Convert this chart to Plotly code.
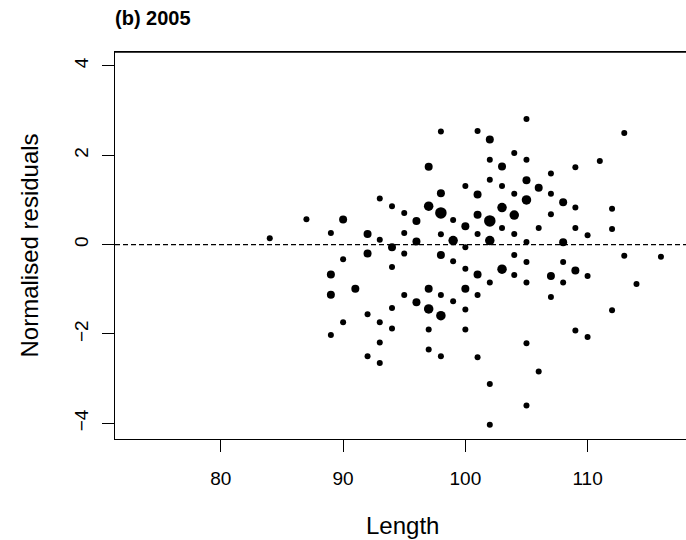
import plotly.graph_objects as go

# Residuals by length (2005); weight = number of overlapping fish at that point
length = (
    [84, 87]
    + [89] * 4 + [90] * 3 + [91] + [92] * 4 + [93] * 5 + [94] * 5 + [95] * 4
    + [96] * 3 + [97] * 6 + [98] * 8 + [99] * 4 + [100] * 7 + [101] * 7
    + [102] * 8 + [103] * 5 + [104] * 6 + [105] * 9 + [106] * 3 + [107] * 5
    + [108] * 4 + [109] * 5 + [110] * 3 + [111] + [112] * 3 + [113] * 2
    + [114] + [116]
)
residual = [
    0.14, 0.57,
    0.26, -0.67, -1.12, -2.02,
    0.56, -0.33, -1.74,
    -0.99,
    0.24, -0.20, -1.56, -2.50,
    1.03, 0.11, -1.74, -2.19, -2.65,
    0.86, -0.06, -0.50, -1.42, -1.88,
    0.71, 0.26, -0.20, -1.13,
    0.53, 0.07, -1.29,
    1.74, 0.86, -0.99, -1.44, -1.90, -2.35,
    2.53, 1.15, 0.71, 0.23, -0.23, -1.13, -1.59, -2.50,
    0.55, 0.09, -0.37, -1.27,
    1.31, 0.41, -0.06, -0.54, -0.99, -1.45, -1.90,
    2.54, 1.12, 0.67, 0.24, -0.67, -1.13, -2.52,
    2.35, 1.90, 1.45, 0.53, 0.09, -0.85, -3.12, -4.03,
    1.75, 1.31, 0.83, 0.37, -0.55,
    2.05, 1.14, 0.66, 0.24, -0.23, -0.68,
    2.81, 1.90, 1.44, 1.00, 0.06, -0.39, -0.85, -2.21, -3.60,
    1.27, 0.37, -2.84,
    1.59, 1.14, 0.68, -0.70, -1.17,
    0.95, 0.05, -0.39, -0.85,
    1.73, 0.83, 0.37, -0.58, -1.92,
    0.21, -0.70, -2.07,
    1.87,
    0.80, 0.35, -1.47,
    2.50, -0.25,
    -0.88,
    -0.27,
]
weight = [
    1, 1,
    1, 2, 2, 1,
    2, 1, 1,
    2,
    2, 2, 1, 1,
    1, 1, 1, 1, 1,
    1, 2, 1, 1, 1,
    1, 1, 1, 1,
    2, 2, 2,
    2, 3, 2, 3, 1, 1,
    1, 2, 4, 1, 2, 1, 3, 1,
    1, 3, 1, 1,
    1, 2, 1, 1, 2, 1, 1,
    1, 2, 2, 1, 2, 1, 1,
    2, 1, 1, 4, 3, 1, 1, 1,
    2, 1, 3, 1, 3,
    1, 1, 3, 1, 1, 1,
    1, 1, 2, 3, 1, 1, 1, 1, 1,
    2, 1, 1,
    1, 1, 1, 2, 1,
    2, 2, 1, 1,
    1, 1, 1, 2, 1,
    1, 1, 1,
    1,
    1, 1, 1,
    1, 1,
    1,
    1,
]
x_ticks = [80, 90, 100, 110]
y_ticks = [-4, -2, 0, 2, 4]

size_map = {1: 6, 2: 8, 3: 9.5, 4: 11.5}
sizes = [size_map[w] for w in weight]

font = "Liberation Sans, Arial, sans-serif"

fig = go.Figure()
fig.add_trace(go.Scatter(
    x=length, y=residual, mode="markers",
    marker=dict(color="#000000", size=sizes, opacity=1, line=dict(width=0)),
    showlegend=False, hoverinfo="x+y",
))

# reference line at zero, and the top edge of the box
fig.add_shape(type="line", xref="paper", yref="y", x0=0, x1=1, y0=0, y1=0,
              line=dict(color="black", width=1.3, dash="5px,3px"))
fig.add_shape(type="line", xref="paper", yref="paper", x0=0, x1=1, y0=1, y1=1,
              line=dict(color="black", width=1.3))

fig.update_layout(
    width=686, height=540,
    margin=dict(l=115, r=0, t=52, b=101, autoexpand=False),
    paper_bgcolor="white", plot_bgcolor="white",
    font=dict(family=font, size=19, color="black"),
    title=dict(text="<b>(b) 2005</b>", x=0, xref="paper", xanchor="left",
               y=1 - 18 / 540, yref="container", yanchor="middle",
               font=dict(family=font, size=20, color="black")),
    annotations=[
        dict(text="Length", xref="paper", yref="paper", x=0.504, y=-(525 - 439) / 387,
             showarrow=False, xanchor="center", yanchor="middle",
             font=dict(family=font, size=24, color="black")),
        dict(text="Normalised residuals", xref="paper", yref="paper",
             x=(29 - 115) / 571, y=0.5, textangle=-90, showarrow=False,
             xanchor="center", yanchor="middle",
             font=dict(family=font, size=24, color="black")),
    ],
)
fig.update_xaxes(
    range=[71.34, 118.05], tickvals=x_ticks, ticks="outside", ticklen=12,
    tickwidth=1.3, tickcolor="black", showline=True, linecolor="black",
    linewidth=1.3, mirror=True, showgrid=False, zeroline=False,
    ticklabelstandoff=10, automargin=False,
)
fig.update_yaxes(
    range=[-4.35, 4.31], tickvals=y_ticks, ticks="outside", ticklen=12,
    tickwidth=1.3, tickcolor="black", showline=True, linecolor="black",
    linewidth=1.3, mirror=False, showgrid=False, zeroline=False,
    tickangle=-90, ticklabelstandoff=6, automargin=False,
)

fig.write_html("out.html", config={"displayModeBar": False},
               post_script="document.body.style.margin='0';")
